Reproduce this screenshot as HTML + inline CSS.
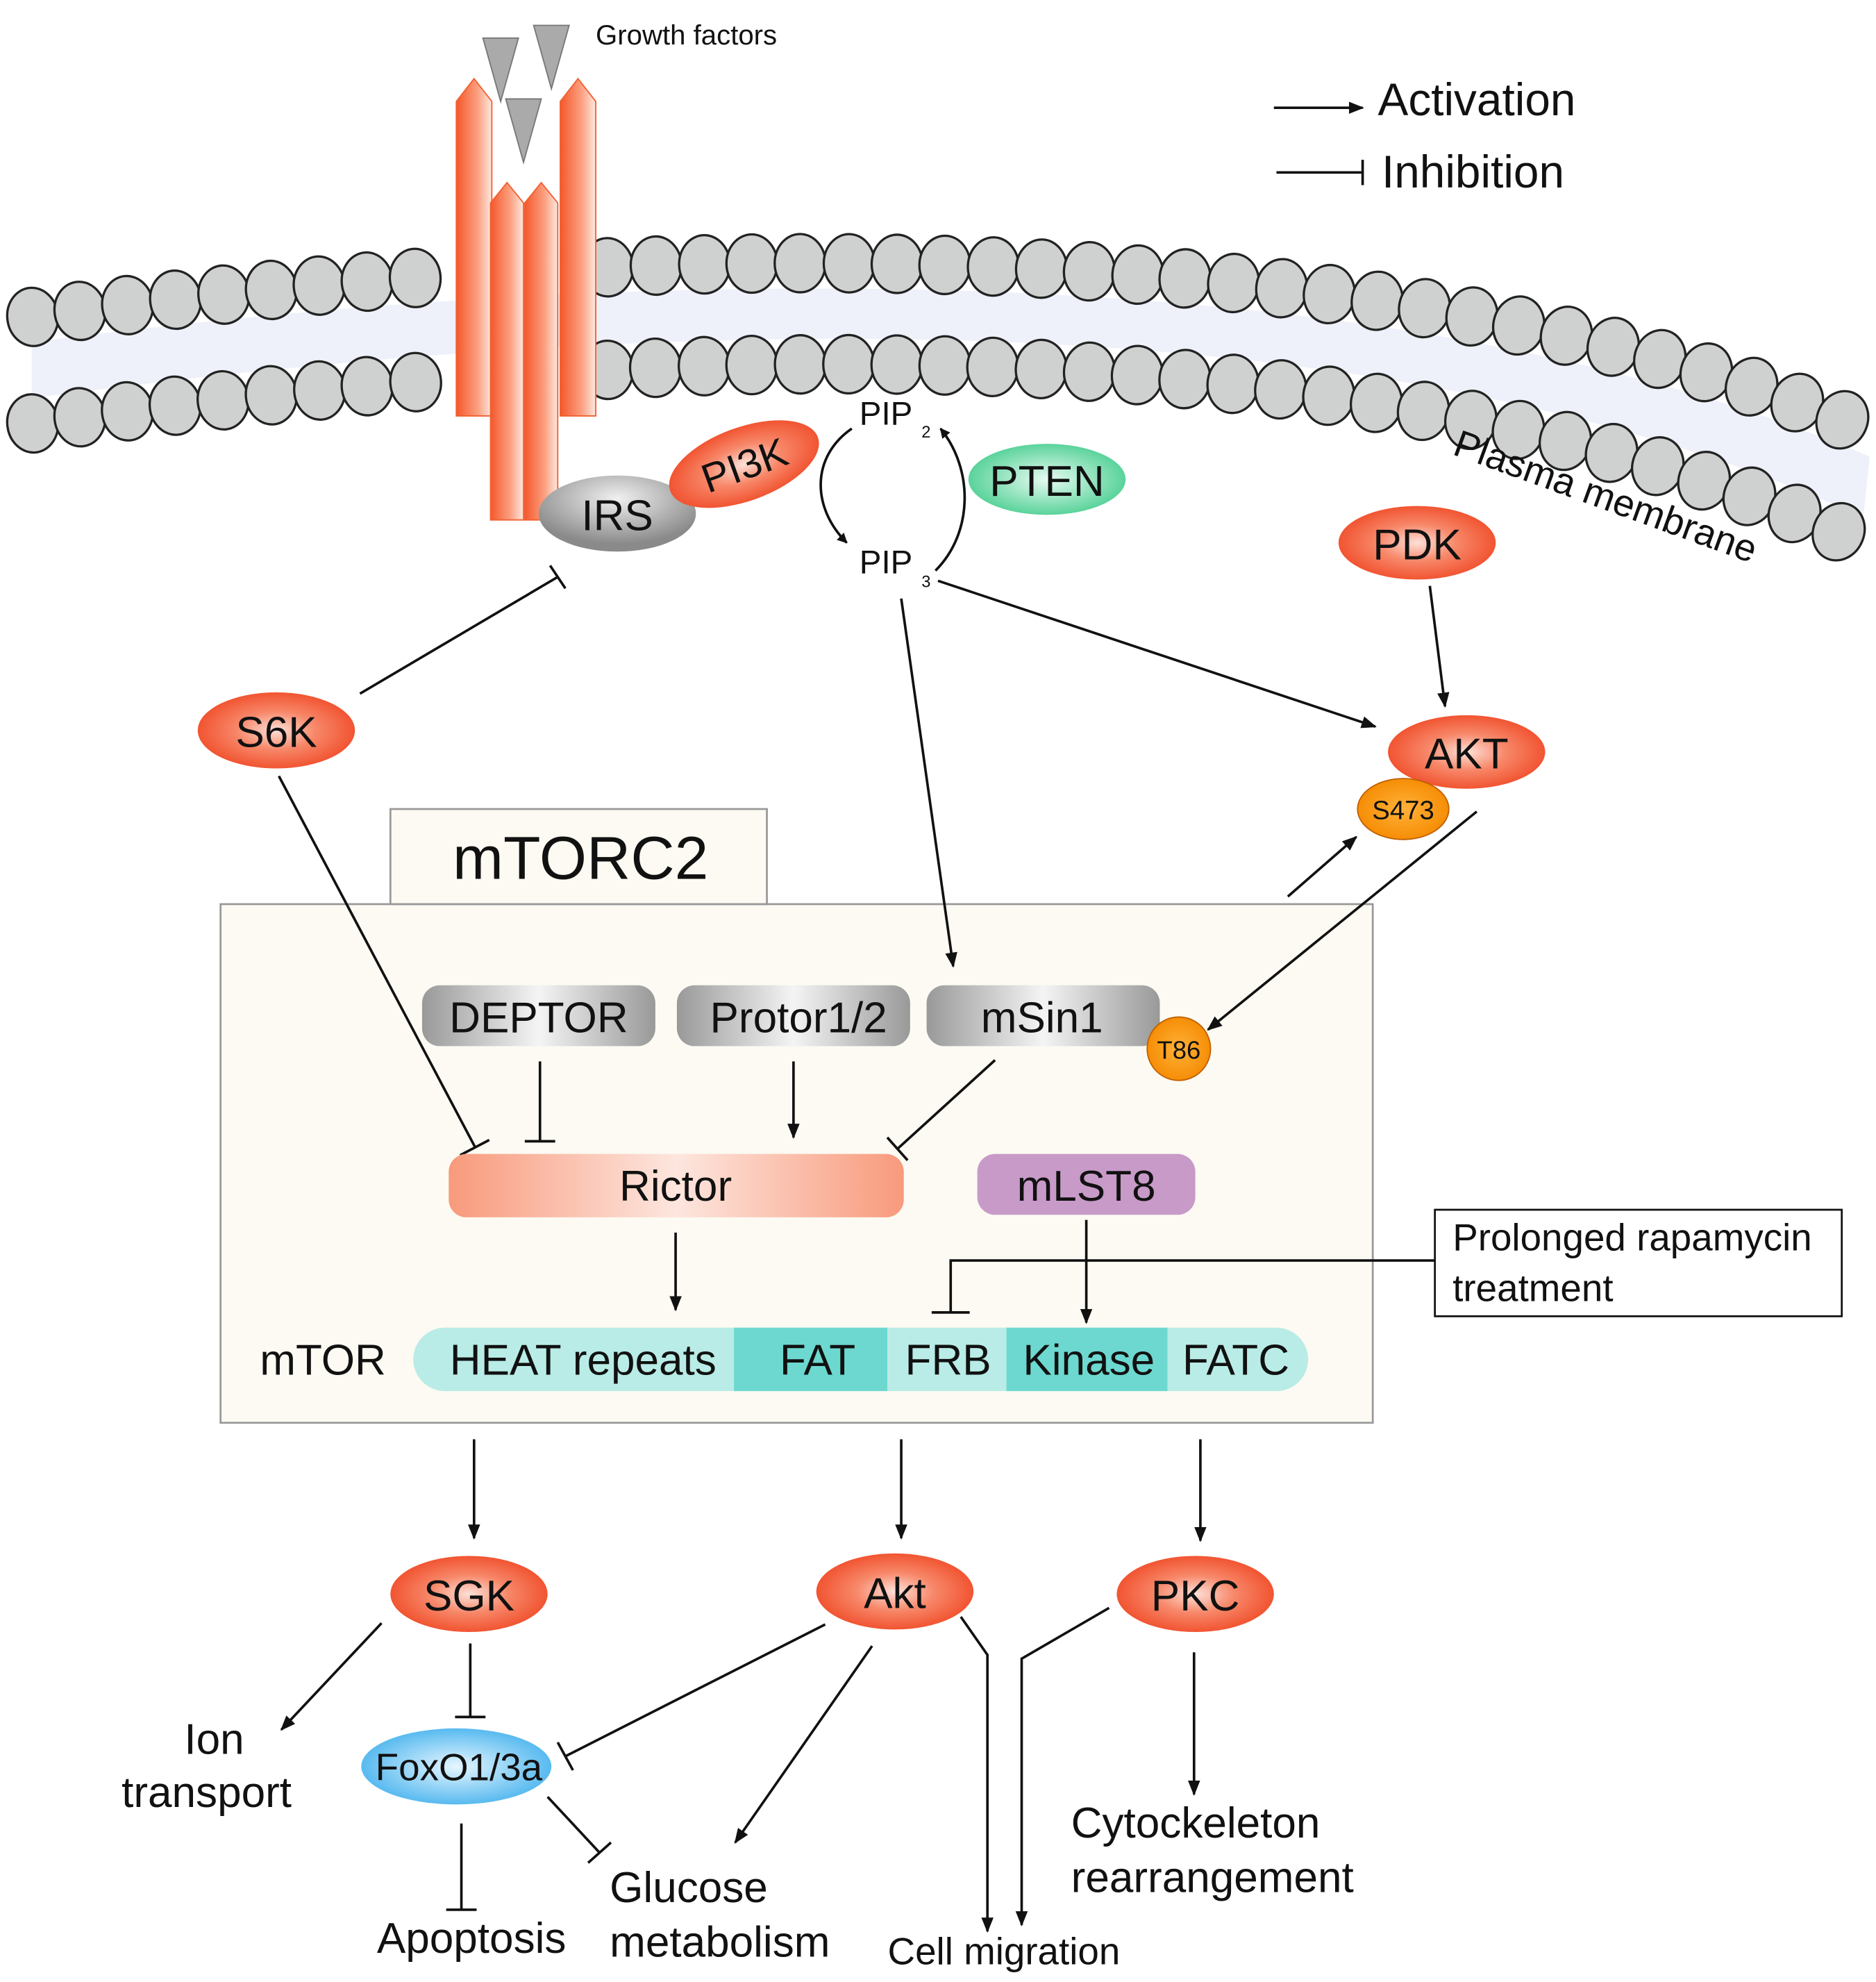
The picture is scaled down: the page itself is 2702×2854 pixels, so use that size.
<!DOCTYPE html>
<html><head><meta charset="utf-8"><style>
html,body{margin:0;padding:0;background:#fff;}
svg{display:block}
text{font-family:"Liberation Sans",Arial,sans-serif;fill:#111}
</style></head><body>
<svg id="s" width="2702" height="2854" viewBox="0 0 1480 1563" preserveAspectRatio="none" xmlns="http://www.w3.org/2000/svg">
<defs>
<radialGradient id="red" cx="50%" cy="50%" r="55%"><stop offset="0" stop-color="#fde0d8"/><stop offset="0.45" stop-color="#f7886a"/><stop offset="1" stop-color="#f04a26"/></radialGradient>
<radialGradient id="gray" cx="50%" cy="30%" r="60%"><stop offset="0" stop-color="#f0f0f0"/><stop offset="1" stop-color="#8a8a8a"/></radialGradient>
<radialGradient id="green" cx="50%" cy="50%" r="55%"><stop offset="0" stop-color="#e8fbf2"/><stop offset="1" stop-color="#4ccf92"/></radialGradient>
<radialGradient id="blue" cx="50%" cy="50%" r="55%"><stop offset="0" stop-color="#e6f6ff"/><stop offset="1" stop-color="#4ab4ee"/></radialGradient>
<radialGradient id="orng" cx="50%" cy="50%" r="55%"><stop offset="0" stop-color="#ffb13a"/><stop offset="1" stop-color="#f58a00"/></radialGradient>
<linearGradient id="col" x1="0" x2="1"><stop offset="0" stop-color="#f5582c"/><stop offset="0.6" stop-color="#fba080"/><stop offset="1" stop-color="#fde8e0"/></linearGradient>
<linearGradient id="gbar" x1="0" x2="1"><stop offset="0" stop-color="#999"/><stop offset="0.5" stop-color="#f4f4f4"/><stop offset="1" stop-color="#999"/></linearGradient>
<linearGradient id="ric" x1="0" x2="1"><stop offset="0" stop-color="#f89a7c"/><stop offset="0.5" stop-color="#fde6de"/><stop offset="1" stop-color="#f89a7c"/></linearGradient>
<marker id="a" viewBox="0 0 10 10" refX="9" refY="5" markerWidth="8" markerHeight="8" orient="auto" markerUnits="userSpaceOnUse"><path d="M0,0 L10,5 L0,10 z" fill="#111"/></marker>
<marker id="a2" viewBox="0 0 10 10" refX="9" refY="5" markerWidth="12" markerHeight="12" orient="auto" markerUnits="userSpaceOnUse"><path d="M0,1 L10,5 L0,9 z" fill="#111"/></marker>
</defs>
<g id="mem"></g>
<!-- receptor -->
<g stroke="#f06030" stroke-width="1">
<path d="M360,80 L374,62 L388,80 L388,328 L360,328z" fill="url(#col)"/>
<path d="M442,80 L456,62 L470,80 L470,328 L442,328z" fill="url(#col)"/>
<path d="M387,160 L400,144 L413,160 L413,410 L387,410z" fill="url(#col)"/>
<path d="M414,160 L427,144 L440,160 L440,410 L414,410z" fill="url(#col)"/>
</g>
<g fill="#aaa" stroke="#777"><path d="M381,30 L409,30 L395,80z"/><path d="M421,20 L449,20 L435,70z"/><path d="M399,78 L427,78 L413,128z"/></g>
<text x="470" y="35" font-size="22">Growth factors</text>
<!-- legend -->
<line x1="1005" y1="85" x2="1075" y2="85" stroke="#111" stroke-width="2" marker-end="url(#a2)"/>
<text x="1087" y="91" font-size="36">Activation</text>
<line x1="1007" y1="136" x2="1075" y2="136" stroke="#111" stroke-width="2"/><line x1="1075" y1="126" x2="1075" y2="146" stroke="#111" stroke-width="2"/>
<text x="1090" y="148" font-size="36">Inhibition</text>
<text x="1145" y="358" font-size="30" transform="rotate(20 1145 358)">Plasma membrane</text>
<!-- nodes -->
<ellipse cx="487" cy="405" rx="62" ry="30" fill="url(#gray)"/><text x="487" y="418" font-size="34" text-anchor="middle">IRS</text>
<g transform="rotate(-20 587 366)"><ellipse cx="587" cy="366" rx="62" ry="29" fill="url(#red)"/><text x="587" y="378" font-size="32" text-anchor="middle">PI3K</text></g>
<text x="678" y="335" font-size="26">PIP</text><text x="727" y="345" font-size="13">2</text>
<text x="678" y="452" font-size="26">PIP</text><text x="727" y="463" font-size="13">3</text>
<path d="M672,338 C640,360 640,400 668,428" fill="none" stroke="#111" stroke-width="2" marker-end="url(#a)"/>
<path d="M738,450 C768,420 768,370 742,338" fill="none" stroke="#111" stroke-width="2" marker-end="url(#a)"/>
<ellipse cx="826" cy="378" rx="62" ry="28" fill="url(#green)"/><text x="826" y="391" font-size="34" text-anchor="middle">PTEN</text>
<ellipse cx="1118" cy="428" rx="62" ry="29" fill="url(#red)"/><text x="1118" y="441" font-size="34" text-anchor="middle">PDK</text>
<ellipse cx="1157" cy="593" rx="62" ry="29" fill="url(#red)"/><text x="1157" y="606" font-size="34" text-anchor="middle">AKT</text>
<ellipse cx="1107" cy="638" rx="36" ry="24" fill="url(#orng)" stroke="#c06000"/><text x="1107" y="646" font-size="21" text-anchor="middle">S473</text>
<ellipse cx="218" cy="576" rx="62" ry="30" fill="url(#red)"/><text x="218" y="589" font-size="34" text-anchor="middle">S6K</text>
<!-- arrows top -->
<line x1="284" y1="547" x2="440" y2="455" stroke="#111" stroke-width="2"/><line x1="434" y1="446" x2="446" y2="464" stroke="#111" stroke-width="2"/>
<line x1="740" y1="458" x2="1085" y2="573" stroke="#111" stroke-width="2" marker-end="url(#a2)"/>
<line x1="1128" y1="462" x2="1140" y2="557" stroke="#111" stroke-width="2" marker-end="url(#a2)"/>
<!-- box -->
<rect x="174" y="713" width="909" height="409" fill="#fcfaf2" stroke="#999" stroke-width="1.5"/>
<rect x="308" y="638" width="297" height="75" fill="#fcfaf2" stroke="#999" stroke-width="1.5"/>
<text x="458" y="693" font-size="48" text-anchor="middle">mTORC2</text>
<line x1="711" y1="472" x2="752" y2="762" stroke="#111" stroke-width="2" marker-end="url(#a2)"/>
<line x1="1016" y1="707" x2="1070" y2="660" stroke="#111" stroke-width="2" marker-end="url(#a2)"/>
<line x1="1165" y1="640" x2="953" y2="812" stroke="#111" stroke-width="2" marker-end="url(#a2)"/>
<line x1="220" y1="612" x2="375" y2="905" stroke="#111" stroke-width="2"/><line x1="363" y1="911" x2="386" y2="899" stroke="#111" stroke-width="2"/>
<rect x="333" y="777" width="184" height="48" rx="14" fill="url(#gbar)"/><text x="425" y="814" font-size="34" text-anchor="middle">DEPTOR</text>
<rect x="534" y="777" width="184" height="48" rx="14" fill="url(#gbar)"/><text x="630" y="814" font-size="34" text-anchor="middle">Protor1/2</text>
<rect x="731" y="777" width="184" height="48" rx="14" fill="url(#gbar)"/><text x="822" y="814" font-size="34" text-anchor="middle">mSin1</text>
<circle cx="930" cy="827" r="25" fill="url(#orng)" stroke="#c06000"/><text x="930" y="835" font-size="20" text-anchor="middle">T86</text>
<line x1="426" y1="837" x2="426" y2="900" stroke="#111" stroke-width="2"/><line x1="414" y1="900" x2="438" y2="900" stroke="#111" stroke-width="2"/>
<line x1="626" y1="837" x2="626" y2="897" stroke="#111" stroke-width="2" marker-end="url(#a2)"/>
<line x1="785" y1="836" x2="708" y2="906" stroke="#111" stroke-width="2"/><line x1="700" y1="897" x2="716" y2="915" stroke="#111" stroke-width="2"/>
<rect x="354" y="910" width="359" height="50" rx="14" fill="url(#ric)"/><text x="533" y="947" font-size="34" text-anchor="middle">Rictor</text>
<rect x="771" y="910" width="172" height="48" rx="14" fill="#c89ac8"/><text x="857" y="947" font-size="34" text-anchor="middle">mLST8</text>
<line x1="533" y1="972" x2="533" y2="1033" stroke="#111" stroke-width="2" marker-end="url(#a2)"/>
<line x1="857" y1="962" x2="857" y2="1043" stroke="#111" stroke-width="2" marker-end="url(#a2)"/>
<path d="M1132,994 L750,994 L750,1035" fill="none" stroke="#111" stroke-width="2"/><line x1="735" y1="1035" x2="765" y2="1035" stroke="#111" stroke-width="2"/>
<rect x="1132" y="954" width="321" height="84" fill="#fff" stroke="#111" stroke-width="1.5"/>
<text x="1146" y="986" font-size="30">Prolonged rapamycin</text><text x="1146" y="1026" font-size="30">treatment</text>
<text x="205" y="1084" font-size="34">mTOR</text>
<rect x="326" y="1047" width="706" height="50" rx="25" fill="#b9ece6"/>
<rect x="579" y="1047" width="121" height="50" fill="#6dd8d0"/><rect x="794" y="1047" width="127" height="50" fill="#6dd8d0"/>
<text x="460" y="1084" font-size="34" text-anchor="middle">HEAT repeats</text>
<text x="645" y="1084" font-size="34" text-anchor="middle">FAT</text>
<text x="748" y="1084" font-size="34" text-anchor="middle">FRB</text>
<text x="859" y="1084" font-size="34" text-anchor="middle">Kinase</text>
<text x="975" y="1084" font-size="34" text-anchor="middle">FATC</text>
<!-- bottom -->
<line x1="374" y1="1135" x2="374" y2="1213" stroke="#111" stroke-width="2" marker-end="url(#a2)"/>
<line x1="711" y1="1135" x2="711" y2="1213" stroke="#111" stroke-width="2" marker-end="url(#a2)"/>
<line x1="947" y1="1135" x2="947" y2="1215" stroke="#111" stroke-width="2" marker-end="url(#a2)"/>
<ellipse cx="370" cy="1257" rx="62" ry="30" fill="url(#red)"/><text x="370" y="1270" font-size="34" text-anchor="middle">SGK</text>
<ellipse cx="706" cy="1255" rx="62" ry="30" fill="url(#red)"/><text x="706" y="1268" font-size="34" text-anchor="middle">Akt</text>
<ellipse cx="943" cy="1257" rx="62" ry="30" fill="url(#red)"/><text x="943" y="1270" font-size="34" text-anchor="middle">PKC</text>
<ellipse cx="360" cy="1393" rx="75" ry="30" fill="url(#blue)"/><text x="362" y="1404" font-size="30" text-anchor="middle">FoxO1/3a</text>
<line x1="301" y1="1280" x2="222" y2="1364" stroke="#111" stroke-width="2" marker-end="url(#a2)"/>
<line x1="371" y1="1296" x2="371" y2="1354" stroke="#111" stroke-width="2"/><line x1="359" y1="1354" x2="383" y2="1354" stroke="#111" stroke-width="2"/>
<line x1="651" y1="1281" x2="446" y2="1385" stroke="#111" stroke-width="2"/><line x1="440" y1="1374" x2="452" y2="1396" stroke="#111" stroke-width="2"/>
<line x1="688" y1="1298" x2="580" y2="1453" stroke="#111" stroke-width="2" marker-end="url(#a2)"/>
<path d="M758,1275 L779,1305 L779,1523" fill="none" stroke="#111" stroke-width="2" marker-end="url(#a2)"/>
<path d="M875,1268 L806,1308 L806,1518" fill="none" stroke="#111" stroke-width="2" marker-end="url(#a2)"/>
<line x1="942" y1="1303" x2="942" y2="1415" stroke="#111" stroke-width="2" marker-end="url(#a2)"/>
<line x1="432" y1="1417" x2="473" y2="1461" stroke="#111" stroke-width="2"/><line x1="464" y1="1469" x2="482" y2="1453" stroke="#111" stroke-width="2"/>
<line x1="364" y1="1438" x2="364" y2="1506" stroke="#111" stroke-width="2"/><line x1="352" y1="1506" x2="376" y2="1506" stroke="#111" stroke-width="2"/>
<text x="169" y="1383" font-size="34" text-anchor="middle">Ion</text><text x="163" y="1425" font-size="34" text-anchor="middle">transport</text>
<text x="372" y="1540" font-size="34" text-anchor="middle">Apoptosis</text>
<text x="481" y="1500" font-size="34">Glucose</text><text x="481" y="1543" font-size="34">metabolism</text>
<text x="792" y="1549" font-size="30" text-anchor="middle">Cell migration</text>
<text x="845" y="1449" font-size="34">Cytockeleton</text><text x="845" y="1492" font-size="34">rearrangement</text>
</svg>
<script>
(function(){
var g=document.getElementById('mem'),NS='http://www.w3.org/2000/svg';
function bz(t,p){var u=1-t;return [u*u*u*p[0][0]+3*u*u*t*p[1][0]+3*u*t*t*p[2][0]+t*t*t*p[3][0],u*u*u*p[0][1]+3*u*u*t*p[1][1]+3*u*t*t*p[2][1]+t*t*t*p[3][1]];}
var top=[[25,250],[520,185],[1100,180],[1475,340]];
var bot=[[25,334],[520,268],[1080,250],[1470,428]];
var d='M';for(var i=0;i<=60;i++){var p=bz(i/60,top);d+=p[0]+','+(p[1]+20)+' L';}
for(var i=60;i>=0;i--){var p=bz(i/60,bot);d+=p[0]+','+(p[1]-20)+(i?' L':' z');}
var b=document.createElementNS(NS,'path');b.setAttribute('d',d);b.setAttribute('fill','#eef0fa');b.setAttribute('stroke','none');g.appendChild(b);
function row(c){var pts=[],L=0,prev=bz(0,c);for(var i=1;i<=2000;i++){var p=bz(i/2000,c);L+=Math.hypot(p[0]-prev[0],p[1]-prev[1]);prev=p;pts.push([L,p,i/2000]);}
var step=38,next=0;pts.forEach(function(q){if(q[0]>=next){next+=step;var p=q[1];if(p[0]>350&&p[0]<475)return;var t=q[2],p2=bz(Math.min(1,t+0.001),c),a=Math.atan2(p2[1]-p[1],p2[0]-p[0])*180/Math.PI;
var e=document.createElementNS(NS,'ellipse');e.setAttribute('cx',p[0]);e.setAttribute('cy',p[1]);e.setAttribute('rx',20);e.setAttribute('ry',23);e.setAttribute('fill','#cfd1d0');e.setAttribute('stroke','#222');e.setAttribute('stroke-width','1.8');e.setAttribute('transform','rotate('+a+' '+p[0]+' '+p[1]+')');g.appendChild(e);}});}
row(top);row(bot);
})();
</script>
</body></html>
